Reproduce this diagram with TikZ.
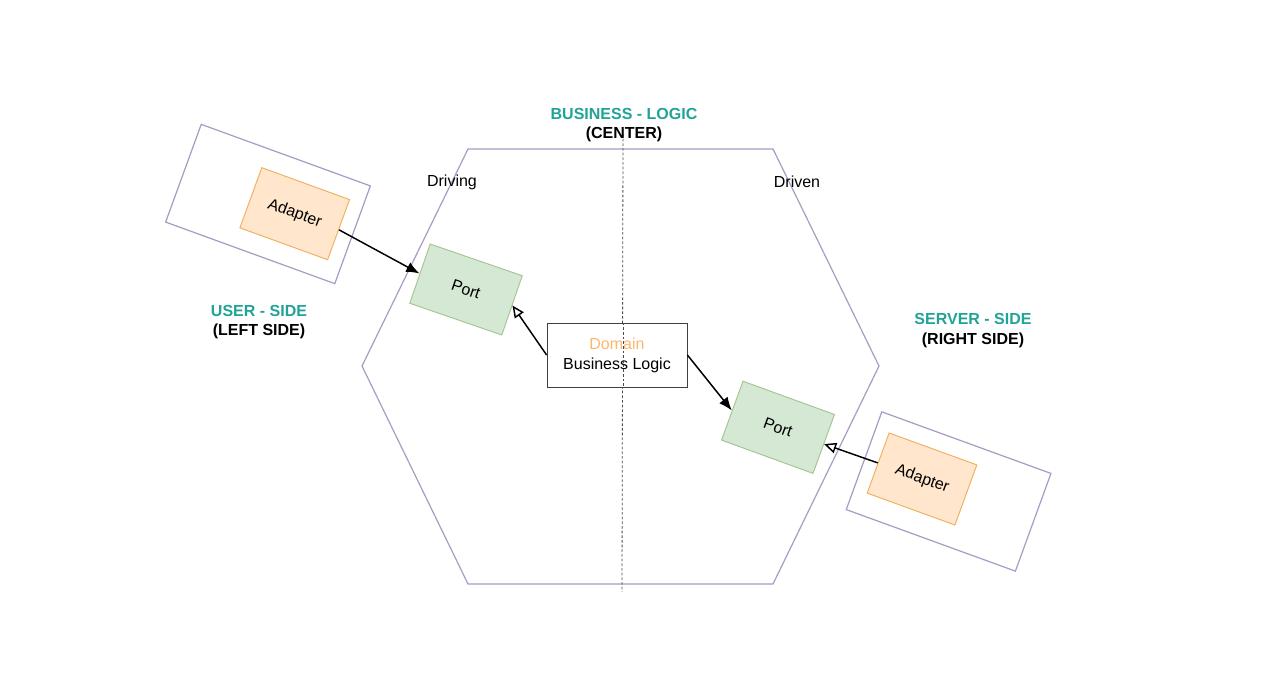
\documentclass[tikz,border=0pt]{standalone}
\usepackage{fontspec}
\setmainfont{Liberation Sans}
\usetikzlibrary{arrows.meta}
\definecolor{teal1}{HTML}{22A398}
\definecolor{lav}{HTML}{A99BC4}
\definecolor{adfill}{HTML}{FFE6CC}
\definecolor{addraw}{HTML}{EDB05E}
\definecolor{ptfill}{HTML}{D5E8D4}
\definecolor{ptdraw}{HTML}{A3C590}
\definecolor{domorange}{HTML}{FFB570}
\tikzset{
  outerbox/.style={draw=lav, line width=0.9pt, minimum width=135pt, minimum height=78pt, inner sep=0pt},
  adapterbox/.style={draw=addraw, fill=adfill, line width=0.7pt, minimum width=70pt, minimum height=48pt, inner sep=0pt, font=\fontsize{12}{14}\selectfont},
  portbox/.style={draw=ptdraw, fill=ptfill, line width=0.7pt, minimum width=73pt, minimum height=47pt, inner sep=0pt, font=\fontsize{12}{14}\selectfont},
  label/.style={align=center, font=\fontsize{12}{14.5}\selectfont\bfseries, inner sep=0pt},
  plain/.style={font=\fontsize{12}{14}\selectfont, inner sep=0pt},
  solidarrow/.style={draw=black, line width=1.1pt, -{Latex[length=10pt,width=8pt]}},
  openarrow/.style={draw=black, line width=1.1pt, -{Triangle[open,length=9pt,width=8pt]}}
}
\begin{document}
\begin{tikzpicture}[x=0.75pt,y=-0.75pt]
\useasboundingbox[fill=white] (0,0) rectangle (1263,685);
% hexagon
\draw[lav, line width=0.9pt] (468,149) -- (773,149) -- (879,366) -- (773,584) -- (468,584) -- (362,366) -- cycle;
% dashed centre line
\coordinate (dtop) at (623,134);
\coordinate (dbot) at (622,592);
\draw[black!70, line width=0.6pt, dash pattern=on 2pt off 1.5pt] (dtop) -- (dbot);
% outer boxes
\node[outerbox, rotate=-20] (outL) at (268,204) {};
\node[outerbox, rotate=-20] (outR) at (948.6,491.5) {};
% adapters
\node[adapterbox, rotate=-20] (adL) at (294.7,213.7) {Adapter};
\node[adapterbox, rotate=-20] (adR) at (922,479) {Adapter};
% ports
\node[portbox, rotate=-19] (portL) at (466,289.5) {Port};
\node[portbox, rotate=-20] (portR) at (778,427.3) {Port};
% domain
\node[draw=black!75, fill=white, line width=0.6pt, minimum width=105pt, minimum height=48pt, inner sep=0pt, align=center, font=\fontsize{12}{15}\selectfont] (dom) at (617,355) {\textcolor{domorange}{Domain}\\Business Logic};
% labels
\node[label] (bl) at (624,125) {\textcolor{teal1}{BUSINESS - LOGIC}\\(CENTER)};
\node[label] (us) at (259,322) {\textcolor{teal1}{USER - SIDE}\\(LEFT SIDE)};
\node[label] (ss) at (973,330.5) {\textcolor{teal1}{SERVER - SIDE}\\(RIGHT SIDE)};
\node[plain] (driving) at (452,182) {Driving};
\node[plain] (driven) at (797,182) {Driven};
% redraw dashed line over domain box
\draw[black!70, line width=0.6pt, dash pattern=on 2pt off 1.5pt] (dom.north -| dtop) -- (dom.south -| dtop);
% connectors
\draw[solidarrow] (adL.east) -- (portL.west);
\draw[openarrow] (dom.west) -- (portL.east);
\draw[solidarrow] (dom.east) -- (portR.west);
\draw[openarrow] (adR.west) -- (portR.east);
\end{tikzpicture}
\end{document}
